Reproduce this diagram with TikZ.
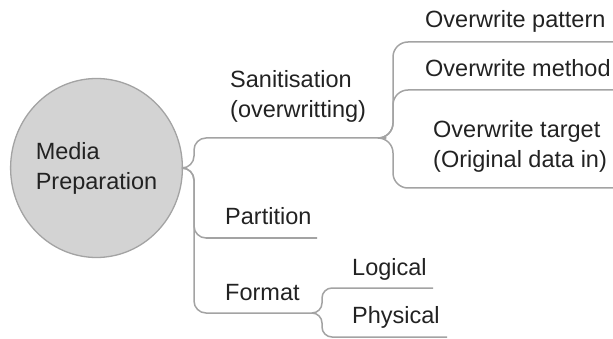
\documentclass[tikz,border=0pt]{standalone}
\usepackage{fontspec}
\setmainfont{Liberation Sans}
\usetikzlibrary{shapes.geometric}
\definecolor{linegray}{HTML}{A3A3A3}
\definecolor{rootfill}{HTML}{D3D3D3}
\definecolor{txt}{HTML}{222222}
\begin{document}
\begin{tikzpicture}[x=1pt,y=-1pt,
  conn/.style={draw=linegray,line width=1.5pt,rounded corners=12pt},
  lbl/.style={anchor=base west,inner sep=0pt,text=txt,font=\fontsize{23.5}{30}\selectfont,align=left},
  rootnode/.style={ellipse,draw=linegray,line width=1.3pt,fill=rootfill,minimum width=166pt,minimum height=179pt,inner sep=0pt,text=txt,font=\fontsize{23.5}{30}\selectfont,align=left}]
\useasboundingbox (0,0) rectangle (613,339);
% root
\node[rootnode] (root) at (96.5,168) {Media\\Preparation};
% labels (base anchor = baseline of last line)
\node[lbl] (san) at (230,118) {Sanitisation\\(overwritting)};
\node[lbl] (pat) at (425,28) {Overwrite pattern};
\node[lbl] (met) at (425,77) {Overwrite method};
\node[lbl] (tgt) at (433,168) {Overwrite target\\(Original data in)};
\node[lbl] (par) at (225,225) {Partition};
\node[lbl] (fmt) at (225,300) {Format};
\node[lbl] (log) at (352,275) {Logical};
\node[lbl] (phy) at (352,323) {Physical};
% underline end points
\coordinate (sanE) at (386,138);
\coordinate (patE) at (613,42);
\coordinate (metE) at (613,90);
\coordinate (tgtE) at (613,188);
\coordinate (parE) at (317,238);
\coordinate (fmtE) at (315,313);
\coordinate (logE) at (433,288);
\coordinate (phyE) at (447,337);
% connectors from root
\draw[conn] (root.east) -| (194,138) -- (sanE);
\draw[conn] (root.east) -| (194,238) -- (parE);
\draw[conn] (root.east) -| (194,313) -- (fmtE);
% sanitisation children
\draw[conn,rounded corners=15pt] (sanE) -| (393,42) -- (patE);
\draw[conn,rounded corners=15pt] (sanE) -| (393,90) -- (metE);
\draw[conn,rounded corners=15pt] (sanE) -| (393,188) -- (tgtE);
% format children
\draw[conn,rounded corners=10pt] (fmtE) -| (322,288) -- (logE);
\draw[conn,rounded corners=10pt] (fmtE) -| (322,337) -- (phyE);
\end{tikzpicture}
\end{document}
